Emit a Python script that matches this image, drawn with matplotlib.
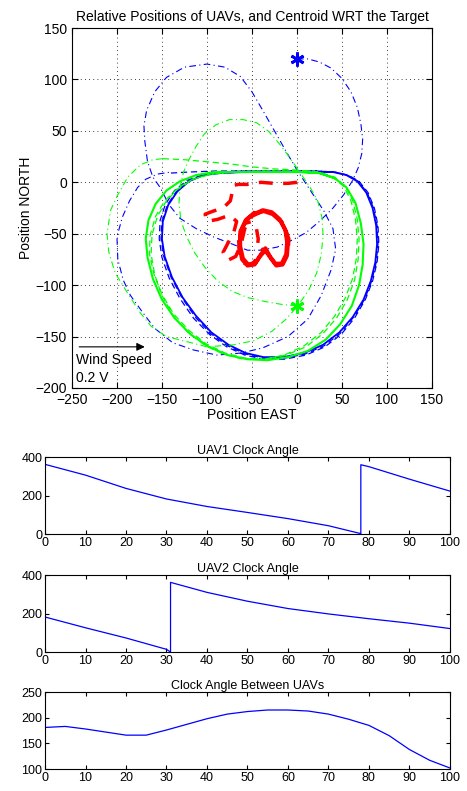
import numpy as np
import matplotlib.pyplot as plt

plt.rcParams['font.family'] = ['Liberation Sans', 'DejaVu Sans']
plt.rcParams['font.size'] = 9

# ---- trajectory waypoints (east, north) ----
uav1_start = (0, 120)
uav2_start = (0, -120)

# UAV1: initial transient (dash-dot)
uav1_dd_e = [0, 12, 25, 38, 50, 60, 67, 71, 73, 72, 68, 62, 52, 40, 25, 10, -5, -22, -40, -55,
             -72, -93, -112, -130, -142, -152, -160, -166, -169, -170, -167, -158, -145, -125, -100,
             -80, -63, -50, -38, -25, -12, 0, 15, 30, 40, 43, 38, 27, 12, -10, -38, -62, -89, -115,
             -138, -158, -171, -185, -193, -199, -200, -194, -186, -177, -168, -155, -140]
uav1_dd_n = [120, 120, 117, 111, 101, 88, 73, 57, 42, 28, 14, 2, -12, -25, -38, -49, -56, -63, -66, -66,
             -60, -53, -45, -35, -22, -5, 5, 20, 40, 55, 70, 88, 102, 112, 115,
             112, 103, 88, 70, 50, 30, 12, -8, -28, -45, -65, -85, -110, -133, -150, -161, -166, -168, -163,
             -156, -142, -127, -110, -95, -75, -53, -34, -18, -5, 3, 8, 10]

# UAV1: settling orbits (dashed)
uav1_da_e = [-140, -120, -90, -60, -30, 0, 22, 42, 57, 69, 79, 86, 90, 91, 89, 84, 76, 64, 49, 31, 10,
             -14, -37, -58, -78, -97, -115, -130, -142, -150, -153, -152, -146, -136, -122, -105, -85,
             -60, -30, 0, 22, 42, 56, 68, 78, 85, 89, 90, 88, 83, 75, 63, 48, 30, 9, -14, -37, -57, -77,
             -96, -113, -128, -140, -148, -151, -150, -144, -134, -121, -104, -85, -60, -30, 0]
uav1_da_n = [9, 10, 11, 11, 11, 11, 11, 10, 7, 1, -10, -25, -42, -60, -78, -96, -114, -132, -148, -160, -168,
             -172, -172, -168, -160, -148, -132, -113, -93, -73, -55, -37, -21, -8, 2, 7, 10,
             11, 11, 11, 11, 10, 7, 1, -10, -25, -42, -60, -78, -96, -114, -131, -147, -159, -167,
             -171, -171, -167, -159, -147, -131, -112, -92, -72, -55, -38, -22, -9, 1, 7, 9, 10, 10, 10]

# UAV1: converged orbit (solid)
uav1_so_e = [0, 20, 40, 55, 67, 77, 84, 88, 89, 87, 82, 74, 62, 47, 29, 8, -15, -37, -57, -76, -95,
             -112, -127, -139, -147, -150, -149, -143, -133, -120, -104, -85, -60, -30, 0, 20, 40]
uav1_so_n = [10, 10, 10, 7, 1, -10, -25, -42, -60, -78, -96, -114, -131, -146, -158, -166, -170, -170, -166,
             -158, -146, -130, -112, -92, -72, -55, -38, -22, -9, 1, 7, 9, 10, 10, 10, 10, 10]

# UAV2: initial transient (dash-dot)
uav2_dd_e = [0, -15, -35, -55, -72, -88, -102, -114, -123, -129, -131, -130, -126, -120, -112, -103,
             -90, -75, -60, -45, -32, -20, -8, 3, 14, 23, 28, 29, 27, 22, 13, 1, -12, -28, -48,
             -70, -100, -122, -145, -162, -174, -188, -202, -209, -211, -207, -199, -188, -174, -160, -149]
uav2_dd_n = [-120, -119, -116, -112, -106, -96, -83, -68, -52, -37, -20, -5, 10, 22, 35, 47,
             56, 61, 61, 58, 50, 38, 24, 10, -4, -18, -35, -52, -70, -88, -105, -120, -133, -145, -154,
             -158, -160, -155, -150, -140, -127, -108, -88, -68, -50, -27, -12, 5, 17, 22, 23]

# UAV2: settling orbits (dashed)
uav2_da_e = [-149, -125, -100, -75, -50, -25, 0, 22, 40, 52, 60, 65, 67, 66, 62, 54, 42, 27, 8, -14, -37,
             -60, -82, -103, -122, -138, -150, -158, -162, -161, -155, -145, -132, -115, -95, -70, -45,
             -20, 5, 25, 42, 54, 62, 67, 69, 68, 64, 56, 44, 29, 10, -12, -35, -58, -80, -101, -120,
             -137, -150, -159, -164, -163, -157, -147, -133, -116, -96, -70, -45, -20, 5]
uav2_da_n = [23, 22, 20, 18, 15, 13, 12, 10, 5, -4, -18, -36, -55, -74, -93, -112, -130, -146, -159, -168,
             -172, -172, -167, -158, -145, -129, -110, -90, -70, -51, -33, -18, -6, 3, 8, 10, 11,
             11, 11, 10, 5, -4, -18, -36, -55, -75, -95, -114, -132, -147, -160, -168, -172, -171,
             -166, -157, -144, -128, -109, -89, -69, -51, -33, -18, -6, 3, 8, 10, 10, 10, 10]

# UAV2: converged orbit (solid)
uav2_so_e = [5, 25, 42, 55, 65, 71, 74, 73, 69, 61, 48, 32, 12, -10, -33, -55, -77, -98, -118, -136,
             -150, -160, -166, -168, -165, -157, -145, -130, -112, -92, -70, -45, -20, 5, 25, 42]
uav2_so_n = [10, 9, 4, -5, -20, -40, -60, -80, -100, -120, -138, -153, -164, -170, -173, -172, -168, -160,
             -148, -132, -114, -94, -73, -55, -37, -21, -8, 1, 7, 10, 10, 10, 10, 10, 9, 4]

# Centroid: transient (dashed)
cent_da_e = [0, -10, -25, -40, -55, -65, -71, -72, -74, -82, -93, -102, -100, -88, -75, -67, -70, -76, -82,
             -77, -68, -62, -58, -50, -38, -25, -15, -9, -10, -16, -25, -32, -38, -43, -50, -58, -64,
             -65, -58, -50, -45, -43, -44, -48]
cent_da_n = [0, -1, -1, 0, -2, -2, -3, -10, -18, -25, -28, -31, -38, -36, -32, -38, -48, -58, -68,
             -76, -72, -60, -45, -33, -28, -31, -40, -55, -70, -80, -78, -70, -65, -72, -80, -79, -68,
             -52, -40, -38, -45, -55, -63, -66]

# Centroid: converged (solid)
cent_so_e = [-48, -38, -28, -19, -13, -11, -12, -17, -24, -30, -35, -40, -46, -54, -60, -63, -63, -57, -48,
             -37, -27, -18, -12, -10, -11, -16, -23, -29, -35, -41, -47, -55, -61, -64, -62, -56, -48]
cent_so_n = [-31, -27, -29, -36, -46, -58, -70, -79, -79, -72, -64, -70, -78, -80, -74, -62, -48, -37, -31,
             -28, -31, -38, -48, -60, -71, -80, -81, -74, -66, -72, -80, -81, -75, -63, -47, -36, -30]

# ---- clock angle time histories ----
t1 = [0, 0, 10, 20, 30, 40, 50, 60, 70, 78, 78, 80, 90, 100]
ang1 = [0, 362, 306, 237, 182, 143, 112, 80, 43, 2, 360, 350, 285, 223]

t2 = [0, 10, 20, 30, 31, 31, 40, 50, 60, 70, 80, 90, 100]
ang2 = [182, 126, 73, 14, 0, 362, 310, 264, 226, 198, 173, 150, 122]

t3 = [0, 5, 10, 15, 20, 25, 30, 35, 40, 45, 50, 55, 60, 65, 70, 75, 80, 85, 90, 95, 100]
ang_between = [181, 183, 178, 172, 166, 166, 176, 187, 198, 207, 212, 215, 215, 213, 207, 197, 185, 165,
               138, 117, 102]

fig = plt.figure(figsize=(4.67, 7.91), dpi=100)

ax = fig.add_axes([0.154, 0.5095, 0.771, 0.455])
dd = dict(dashes=[6, 3, 1, 3])
da = dict(dashes=[5, 3])
green = (0, 1, 0)
ax.plot(uav1_dd_e, uav1_dd_n, color='b', lw=0.8, **dd)
ax.plot(uav1_da_e, uav1_da_n, color='b', lw=0.9, **da)
ax.plot(uav1_so_e, uav1_so_n, color='b', lw=1.3)
ax.plot(uav2_dd_e, uav2_dd_n, color=green, lw=0.8, **dd)
ax.plot(uav2_da_e, uav2_da_n, color=green, lw=0.9, **da)
ax.plot(uav2_so_e, uav2_so_n, color=green, lw=1.5)
ax.plot(cent_da_e, cent_da_n, color='r', lw=2.5, dashes=[4, 3])
ax.plot(cent_so_e, cent_so_n, color='r', lw=2.8)
ax.plot(*uav1_start, marker=(6, 2, 0), color='b', ms=10, mew=2)
ax.plot(*uav2_start, marker=(6, 2, 0), color=green, ms=10, mew=2)

ax.annotate('', xy=(-166, -160), xytext=(-245, -160),
            arrowprops=dict(arrowstyle='-|>', color='k', lw=0.8, mutation_scale=12))
ax.text(-245, -166, 'Wind Speed\n0.2 V', ha='left', va='top', fontsize=10, linespacing=1.4)

ax.set_xlim(-250, 150)
ax.set_ylim(-200, 150)
ax.set_xticks(np.arange(-250, 151, 50))
ax.set_yticks(np.arange(-200, 151, 50))
ax.grid(True, color='k', linestyle=(0, (1, 4)), lw=0.6)
ax.tick_params(direction='in', top=True, right=True, length=4, labelsize=10)
ax.set_xlabel('Position EAST', labelpad=1, fontsize=10)
ax.set_ylabel('Position NORTH', labelpad=2, fontsize=10)
ax.set_title('Relative Positions of UAVs, and Centroid WRT the Target', fontsize=10, pad=5)

bottoms = [0.3249, 0.1757, 0.0278]
series = [(t1, ang1, 'UAV1 Clock Angle', (0, 400), [0, 200, 400]),
          (t2, ang2, 'UAV2 Clock Angle', (0, 400), [0, 200, 400]),
          (t3, ang_between, 'Clock Angle Between UAVs', (100, 250), [100, 150, 200, 250])]
for b, (tt, yy, title, ylim, yt) in zip(bottoms, series):
    a = fig.add_axes([0.0964, b, 0.867, 0.0973])
    a.plot(tt, yy, color='b', lw=0.9)
    a.set_xlim(0, 100)
    a.set_ylim(*ylim)
    a.set_xticks(np.arange(0, 101, 10))
    a.set_yticks(yt)
    a.tick_params(direction='in', top=True, right=True, length=3, pad=2)
    a.set_title(title, fontsize=9, pad=2)

fig.savefig('out.png', dpi=100)
